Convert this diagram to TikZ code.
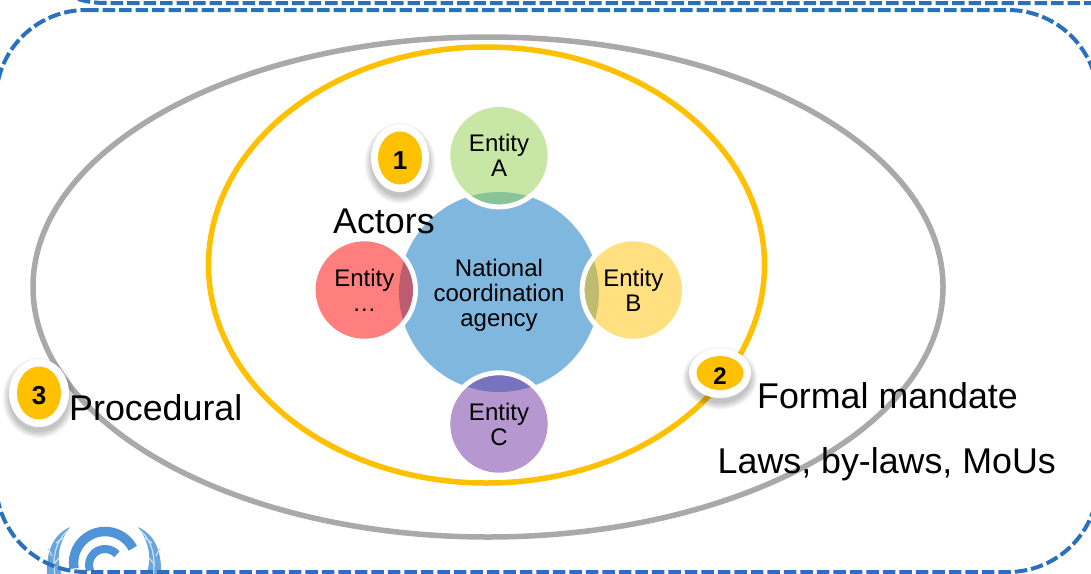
\documentclass[tikz,border=0pt]{standalone}
\usepackage{fontspec}
\setmainfont{Liberation Sans}
\usetikzlibrary{shapes.geometric}
\definecolor{dashblue}{HTML}{2A70BC}
\definecolor{ringgray}{HTML}{A9A9A9}
\definecolor{ringyellow}{HTML}{FFC000}
\definecolor{logoblue}{HTML}{4F94D8}
\definecolor{logolight}{HTML}{C4E0F4}
\definecolor{hubblue}{HTML}{0070C0}
\definecolor{ca}{HTML}{92D050}
\definecolor{cb}{HTML}{FFC000}
\definecolor{cc}{HTML}{7030A0}
\definecolor{cd}{HTML}{FF0000}
\tikzset{
  x=1pt,y=-1pt,
  dashline/.style={draw=dashblue,line width=4pt,dash pattern=on 12.5pt off 4pt},
  dashring/.style={dashline,rounded corners=90pt},
  ringline/.style={line width=5.5pt},
  satellite/.style={circle,fill=#1,fill opacity=.5,text opacity=1,text=black,minimum size=97.4pt,inner sep=0pt,align=center,font=\fontsize{24}{25}\selectfont},
  halo/.style={draw=white,line width=5pt},
  midtext/.style={inner sep=0pt,align=center,text=black,font=\fontsize{24}{25}\selectfont},
  biglabel/.style={anchor=base west,inner sep=0pt,text=black,font=\fontsize{35.8}{40}\selectfont},
  badgedisc/.style={ellipse,fill=ringyellow,inner sep=0pt,text=black,text depth=0pt,font=\bfseries\fontsize{#1}{#1}\selectfont},
  leaf/.style={fill=logoblue!85!white,draw=none},
  vein/.style={draw=logolight,line width=1.3pt},
}
\newcommand{\softshadow}[4]{%
  \foreach \g in {6,4.5,3,1.5,0}{\fill[black,fill opacity=.05] (#1,#2+5) ellipse [x radius=#3+\g,y radius=#4+\g];}%
  \fill[white] (#1,#2) ellipse [x radius=#3,y radius=#4];}
\newcommand{\laurel}{%
  \fill[leaf] (70,527) .. controls (55,534) and (46,548) .. (47,575) -- (62,575) .. controls (56,560) and (58,543) .. (70,527) -- cycle;
  \draw[vein] (67,531) .. controls (56,542) and (52,556) .. (55,575);
  \draw[vein] (56,543) -- (63,538);
  \draw[vein] (52,556) -- (48,548);
  \draw[vein] (53,565) -- (59,558);
}
\begin{document}
\begin{tikzpicture}
\useasboundingbox (0,0) rectangle (1091,573);
\clip (0,0) rectangle (1091,573);
% logo
\laurel
\begin{scope}[shift={(208,0)},xscale=-1]
\laurel
\end{scope}
\draw[logoblue,line width=9.5pt] (105,563) ++(-28:31.5) arc [start angle=-28,end angle=-190,radius=31.5];
\draw[logoblue,line width=8pt] (105,565) ++(-42:16) arc [start angle=-42,end angle=-200,radius=16];
% frames
\draw[dashring] (-4,10) -- (1098,10) -- (1098,572) -- (-4,572) -- cycle;
\draw[dashline] (78,-1) .. controls (88,2) and (95,3) .. (108,3) -- (1091,3);
% rings
\draw[ringgray,ringline] (488,287) ellipse [x radius=455,y radius=250];
\draw[ringyellow,ringline] (486.5,265) ellipse [x radius=278,y radius=218];
% hub
\node[circle,fill=hubblue,fill opacity=.5,minimum size=200pt,inner sep=0pt] (hub) at (499,292) {};
\node[midtext] (hubtext) at (499,295) {National\\coordination\\agency};
\draw[halo] (499,155.7) circle [radius=51.2];
\draw[halo] (633.3,290) circle [radius=51.2];
\draw[halo] (499,424) circle [radius=51.2];
\draw[halo] (364.3,290) circle [radius=51.2];
\node[satellite=ca] (ea) at (499,155.7) {Entity\\A};
\node[satellite=cb] (eb) at (633.3,290) {Entity\\B};
\node[satellite=cc] (ec) at (499,424) {Entity\\C};
\node[satellite=cd] (ed) at (364.3,290) {Entity\\…};
% badges
\softshadow{400}{158}{29}{34}
\node[badgedisc=26,text height=23.6pt,minimum width=44pt,minimum height=53pt] (b1) at (400,158) {1};
\softshadow{720}{373}{31}{25}
\node[badgedisc=24,text height=22pt,minimum width=47pt,minimum height=34pt] (b2) at (720,373) {2};
\softshadow{39}{393}{30}{34}
\node[badgedisc=26,text height=23.6pt,minimum width=44pt,minimum height=53pt] (b3) at (39,393) {3};
% labels
\node[biglabel] (actors) at (333,233.7) {Actors};
\node[biglabel] (proc) at (69,420) {Procedural};
\node[biglabel] (formal) at (757,408.7) {Formal mandate};
\node[biglabel] (laws) at (717.5,473.7) {Laws, by-laws, MoUs};
\end{tikzpicture}
\end{document}
